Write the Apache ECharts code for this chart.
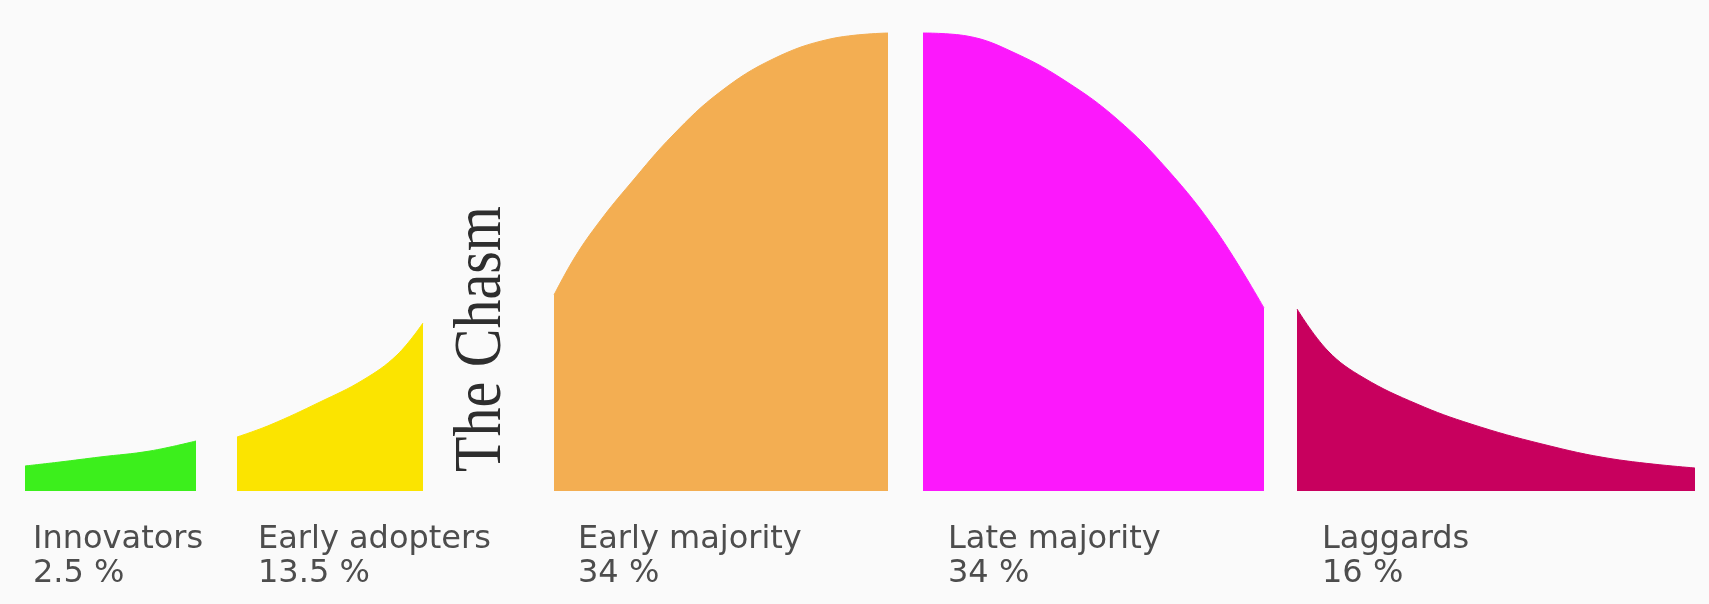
<!DOCTYPE html>
<html>
<head>
<meta charset="utf-8">
<script src="https://cdn.jsdelivr.net/npm/echarts@6/dist/echarts.min.js"></script>
<style>
html,body{margin:0;padding:0;background:#fafafa;}
#chart{width:1709px;height:604px;}
</style>
</head>
<body>
<div id="chart"></div>
<script>
// ---- data (x position along adoption curve, curve height) ----
const segmentNames = ["Innovators", "Early adopters", "Early majority", "Late majority", "Laggards"];
const segmentShares = ["2.5 %", "13.5 %", "34 %", "34 %", "16 %"];

const innovatorsX = [25, 60, 100, 150, 196];
const innovatorsH = [25, 29, 34, 40, 50];

const earlyAdoptersX = [237, 270, 320, 363, 397, 423];
const earlyAdoptersH = [54, 66, 89, 111, 136, 168];

const earlyMajorityX = [554, 575, 600, 630, 673, 720, 773, 830, 888];
const earlyMajorityH = [196, 234, 270, 307, 356, 399, 432, 452, 458];

const lateMajorityX = [923, 967, 1017, 1067, 1117, 1167, 1217, 1264];
const lateMajorityH = [458, 455, 437, 409, 372, 322, 259, 183];

const laggardsX = [1297, 1328, 1364, 1417, 1471, 1542, 1613, 1695];
const laggardsH = [182, 140, 113, 87, 67, 47, 32, 23];

const chasmLabel = "The Chasm";

// ---- styles ----
const colors = ["#3cef1c", "#fbe400", "#f3ae52", "#fc18fc", "#c8005e"];
const labelDX = [8, 21, 24, 25, 25];

const segX = [innovatorsX, earlyAdoptersX, earlyMajorityX, lateMajorityX, laggardsX];
const segH = [innovatorsH, earlyAdoptersH, earlyMajorityH, lateMajorityH, laggardsH];

const chart = echarts.init(document.getElementById('chart'), null, {renderer: 'canvas'});

const series = segX.map((xs, i) => ({
  name: segmentNames[i],
  type: 'line',
  smooth: 0.4,
  symbol: 'none',
  silent: true,
  lineStyle: {width: 1, color: colors[i]},
  areaStyle: {color: colors[i], opacity: 1},
  data: xs.map((x, j) => [x, segH[i][j]])
}));

chart.setOption({
  backgroundColor: '#fafafa',
  animation: false,
  grid: {left: 0, right: 0, top: 0, bottom: 113},
  xAxis: {type: 'value', min: 0, max: 1709, show: false},
  yAxis: {type: 'value', min: 0, max: 491, show: false},
  series: series
});

// labels placed through the axis scales
const graphics = [];
const labelFont = '32px "DejaVu Sans"';
segX.forEach((xs, i) => {
  const p = chart.convertToPixel({gridIndex: 0}, [xs[0], 0]);
  graphics.push({
    type: 'text', x: p[0] + labelDX[i], y: p[1] + 49,
    style: {text: segmentNames[i], font: labelFont, fill: '#4d4d4d', verticalAlign: 'middle', align: 'left'}
  });
  graphics.push({
    type: 'text', x: p[0] + labelDX[i], y: p[1] + 83,
    style: {text: segmentShares[i], font: labelFont, fill: '#4d4d4d', verticalAlign: 'middle', align: 'left'}
  });
});
const c = chart.convertToPixel({gridIndex: 0}, [482, 152]);
graphics.push({
  type: 'text', x: c[0], y: c[1], rotation: Math.PI / 2, scaleY: 1.15,
  style: {text: chasmLabel, font: '58px "Liberation Serif"', fill: '#2e2e2e', align: 'center', verticalAlign: 'middle'}
});
chart.setOption({graphic: graphics});
</script>
</body>
</html>
